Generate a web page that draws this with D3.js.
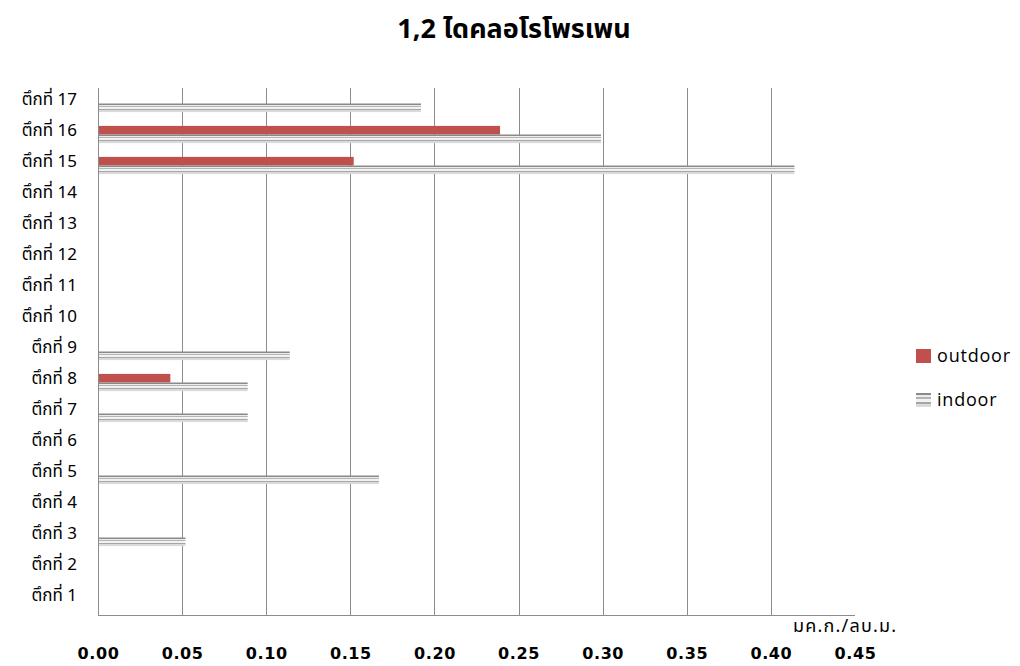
<!DOCTYPE html>
<html>
<head>
<meta charset="utf-8">
<script src="https://cdn.jsdelivr.net/npm/d3@7"></script>
<style>
  html, body { margin: 0; padding: 0; background: #ffffff; }
  svg { display: block; }
</style>
</head>
<body>
<svg id="chart" width="1020" height="666"></svg>
<script>
// Buildings, bottom to top
const categories = ["ตึกที่ 1","ตึกที่ 2","ตึกที่ 3","ตึกที่ 4","ตึกที่ 5","ตึกที่ 6","ตึกที่ 7","ตึกที่ 8","ตึกที่ 9","ตึกที่ 10","ตึกที่ 11","ตึกที่ 12","ตึกที่ 13","ตึกที่ 14","ตึกที่ 15","ตึกที่ 16","ตึกที่ 17"];
// Concentrations (mg/m3)
const outdoorValues = [0, 0, 0, 0, 0, 0, 0, 0.043, 0, 0, 0, 0, 0, 0, 0.152, 0.239, 0];
const indoorValues  = [0, 0, 0.052, 0, 0.167, 0, 0.089, 0.089, 0.114, 0, 0, 0, 0, 0, 0.414, 0.299, 0.192];
const xTicks = [0, 0.05, 0.10, 0.15, 0.20, 0.25, 0.30, 0.35, 0.40, 0.45];
const seriesNames = ["outdoor", "indoor"];
const titleText = "1,2 ไดคลอโรโพรเพน";
const unitText = "มค.ก./ลบ.ม.";

const svg = d3.select("#chart");
const plot = { left: 98, right: 855, top: 88, bottom: 615 };

const thaiFont = "Tahoma, 'Noto Sans Thai', 'Noto Sans', 'DejaVu Sans', sans-serif";

// Striped fill for indoor bars
const defs = svg.append("defs");
const grad = defs.append("linearGradient")
  .attr("id", "indoorStripes")
  .attr("x1", 0).attr("y1", 0).attr("x2", 0).attr("y2", 1);
[
  [0.00, "#8a8a8a"], [0.12, "#8a8a8a"], [0.12, "#ececec"], [0.30, "#ececec"],
  [0.30, "#b4b4b4"], [0.45, "#b4b4b4"], [0.45, "#f2f2f2"], [0.62, "#f2f2f2"],
  [0.62, "#a6a6a6"], [0.78, "#a6a6a6"], [0.78, "#dadada"], [1.00, "#dadada"]
].forEach(([o, c]) => grad.append("stop").attr("offset", o).attr("stop-color", c));

const x = d3.scaleLinear().domain([0, 0.45]).range([plot.left, plot.right]);
const y = d3.scaleBand().domain(categories.slice().reverse())
  .range([plot.top, plot.bottom]).paddingInner(0).paddingOuter(0);
const barH = 8.6;

// Vertical gridlines
svg.append("g")
  .selectAll("line")
  .data(xTicks.filter(t => t > 0 && t < 0.45))
  .join("line")
  .attr("x1", d => Math.round(x(d)) + 0.5)
  .attr("x2", d => Math.round(x(d)) + 0.5)
  .attr("y1", plot.top)
  .attr("y2", plot.bottom)
  .attr("stroke", "#8c8c8c")
  .attr("stroke-width", 1);

// Bars
const rows = categories.map((c, i) => ({ cat: c, outdoor: outdoorValues[i], indoor: indoorValues[i] }));

svg.append("g").selectAll("rect")
  .data(rows.filter(d => d.outdoor > 0))
  .join("rect")
  .attr("x", x(0))
  .attr("y", d => y(d.cat) + y.bandwidth() / 2 - barH)
  .attr("width", d => x(d.outdoor) - x(0))
  .attr("height", barH)
  .attr("fill", "#C0504D");

svg.append("g").selectAll("rect")
  .data(rows.filter(d => d.indoor > 0))
  .join("rect")
  .attr("x", x(0))
  .attr("y", d => y(d.cat) + y.bandwidth() / 2)
  .attr("width", d => x(d.indoor) - x(0))
  .attr("height", barH)
  .attr("fill", "url(#indoorStripes)");

// Axis lines
svg.append("line")
  .attr("x1", plot.left + 0.5).attr("x2", plot.left + 0.5)
  .attr("y1", plot.top).attr("y2", plot.bottom)
  .attr("stroke", "#8c8c8c");
svg.append("line")
  .attr("x1", plot.left).attr("x2", plot.right)
  .attr("y1", plot.bottom + 0.5).attr("y2", plot.bottom + 0.5)
  .attr("stroke", "#8c8c8c");

// Category labels
const yAxis = d3.axisLeft(y).tickSize(0).tickPadding(21);
const yg = svg.append("g").attr("transform", `translate(${plot.left},0)`).call(yAxis);
yg.select(".domain").remove();
yg.selectAll("text")
  .attr("font-family", thaiFont)
  .attr("font-size", 17)
  .attr("fill", "#000")
  .attr("dy", "0.1em");

// Value labels below the plot
const xAxis = d3.axisBottom(x).tickValues(xTicks).tickFormat(d3.format(".2f")).tickSize(0).tickPadding(0);
const xg = svg.append("g").attr("transform", `translate(0,648)`).call(xAxis);
xg.select(".domain").remove();
xg.selectAll("text")
  .attr("font-family", "'DejaVu Sans', Verdana, sans-serif")
  .attr("font-weight", "bold")
  .attr("font-size", 16)
  .attr("letter-spacing", "0.6px")
  .attr("fill", "#000");

// Unit
svg.append("text")
  .attr("x", 793).attr("y", 632)
  .attr("font-family", thaiFont)
  .attr("font-size", 18)
  .attr("letter-spacing", "1.2px")
  .attr("fill", "#000")
  .text(unitText);

// Title
svg.append("text")
  .attr("x", 514).attr("y", 38)
  .attr("text-anchor", "middle")
  .attr("font-family", thaiFont)
  .attr("font-weight", "bold")
  .attr("font-size", 27)
  .attr("fill", "#000")
  .text(titleText);

// Legend
const legend = svg.append("g");
const legendY = [356, 400];
const legendFill = ["#C0504D", "url(#indoorStripes)"];
seriesNames.forEach((name, i) => {
  legend.append("rect")
    .attr("x", 916).attr("y", legendY[i] - 7)
    .attr("width", 15).attr("height", 14)
    .attr("fill", legendFill[i]);
  legend.append("text")
    .attr("x", 937).attr("y", legendY[i])
    .attr("dy", "0.35em")
    .attr("font-family", "'Open Sans', 'DejaVu Sans', sans-serif")
    .attr("font-size", 18)
    .attr("letter-spacing", "0.8px")
    .attr("fill", "#000")
    .text(name);
});
</script>
</body>
</html>
